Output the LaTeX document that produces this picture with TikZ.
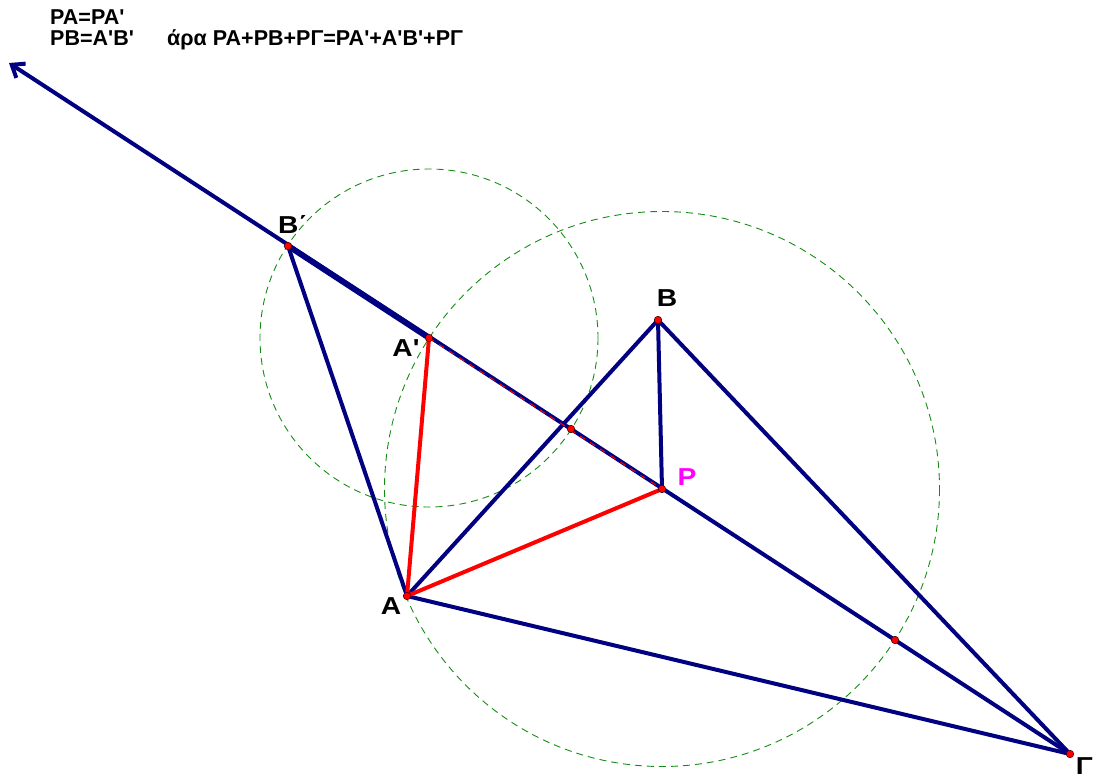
\documentclass[tikz,border=0pt]{standalone}
\usepackage{fontspec}
\usetikzlibrary{arrows.meta}
\newfontfamily\lab{Liberation Sans}
\newfontfamily\labw{Liberation Sans}[FakeStretch=1.15]
\definecolor{navyline}{RGB}{0,0,128}
\definecolor{dashgreen}{RGB}{20,140,20}
\definecolor{ptmag}{RGB}{255,0,255}
\begin{document}
\begin{tikzpicture}[x=1pt,y=-1pt,
  bline/.style={draw=navyline,line width=4pt,line cap=round},
  rline/.style={draw=red,line width=4pt,line cap=round},
  circ/.style={draw=dashgreen,line width=0.9pt,dash pattern=on 7pt off 5pt},
  dot/.style={circle,fill=red,draw=black!70!red,line width=0.6pt,inner sep=0pt,minimum size=7.5pt},
  lbl/.style={font=\labw\fontsize{24.5}{26}\selectfont\bfseries,inner sep=0pt},
  txt/.style={font=\lab\fontsize{21.5}{24}\selectfont\bfseries,inner sep=0pt,anchor=base west}
]
\useasboundingbox (0,0) rectangle (1094,778);
% points
\coordinate (A) at (407,596);
\coordinate (B) at (658,320);
\coordinate (P) at (662,489);
\coordinate (G) at (1070,754);
\coordinate (Ap) at (429,338);
\coordinate (Bp) at (288,246);
\coordinate (X1) at (571,429);
\coordinate (X2) at (895,640);
\coordinate (T) at (9,63);
% circles
\draw[circ] (Ap) circle[radius=169];
\draw[circ] (P) circle[radius=277.5];
% blue lines
\draw[bline,-{Straight Barb[length=11pt,width=17pt]}] (G) -- (T);
\draw[bline,line width=5.6pt] (Bp) -- (Ap);
\draw[bline] (A) -- (Bp);
\draw[bline] (A) -- (B);
\draw[bline] (A) -- (G);
\draw[bline] (B) -- (P);
\draw[bline] (B) -- (G);
% red lines
\draw[rline] (A) -- (Ap);
\draw[rline] (A) -- (P);
\draw[draw=red,line width=1pt,dash pattern=on 6pt off 6pt] (Ap) -- (P);
% dots
\foreach \p in {A,B,P,G,Ap,Bp,X1,X2} \node[dot] (d\p) at (\p) {};
% labels
\node[lbl] (lA) at (391,606) {A};
\node[lbl] (lB) at (667,298) {B};
\node[lbl,text=ptmag] (lP) at (687,477) {P};
\node[lbl,anchor=south east] (lG) at (1093,775) {Γ};
\node[lbl] (lAp) at (406,348) {A'};
\node[lbl] (lBp) at (293,224) {B΄};
% top text
\node[txt] (t1) at (50,25) {PA=PA'};
\node[txt] (t2) at (50,46) {PB=A'B'};
\node[txt] (t3) at (167,46) {άρα PA+PB+PΓ=PA'+A'B'+PΓ};
\end{tikzpicture}
\end{document}
